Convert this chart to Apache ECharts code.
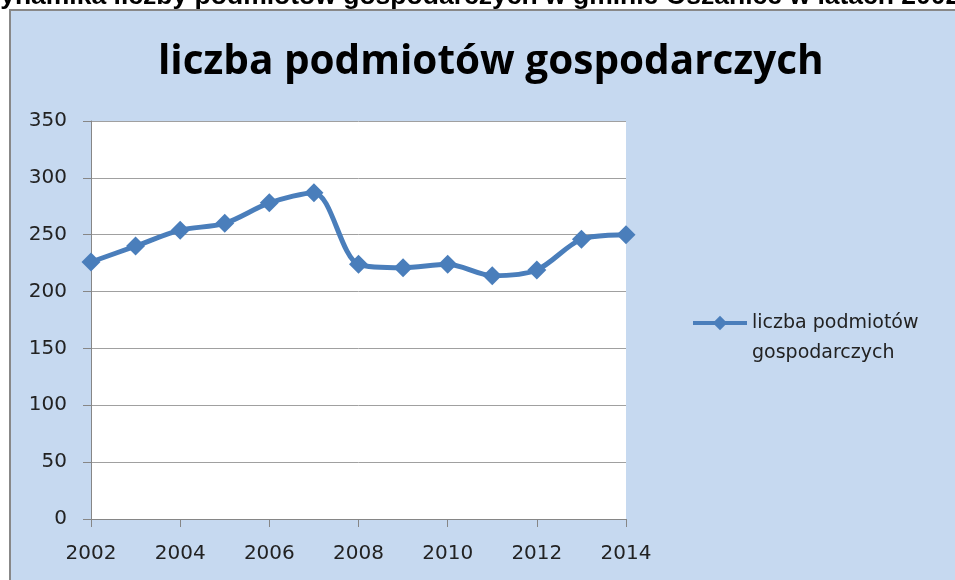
<!DOCTYPE html>
<html>
<head>
<meta charset="utf-8">
<script src="https://cdn.jsdelivr.net/npm/echarts@6/dist/echarts.min.js"></script>
<style>
  html, body { margin: 0; padding: 0; background: #fff; }
  #main { width: 955px; height: 580px; }
</style>
</head>
<body>
<div id="main"></div>
<script>
// dane
var years = [2002, 2003, 2004, 2005, 2006, 2007, 2008, 2009, 2010, 2011, 2012, 2013, 2014];
var values = [226, 240, 254, 260, 278, 287, 224, 221, 224, 214, 219, 246, 250];
var yTicks = [0, 50, 100, 150, 200, 250, 300, 350];
var xTicks = [2002, 2004, 2006, 2008, 2010, 2012, 2014];
var seriesName = 'liczba podmiotów gospodarczych';
var pageTitle = 'Dynamika liczby podmiotów gospodarczych w gminie Oszanice w latach 2002-2014';

var points = years.map(function (y, i) { return [y, values[i]]; });

var myChart = echarts.init(document.getElementById('main'));
var font = '"DejaVu Sans", sans-serif';

var option = {
    backgroundColor: '#ffffff',
    animation: false,
    graphic: [{
        type: 'rect',
        z: -10,
        shape: { x: 10, y: 10, width: 960, height: 590 },
        style: { fill: '#C6D9F0', stroke: '#888888', lineWidth: 2 }
    }, {
        type: 'text',
        z: -5,
        style: {
            x: -19, y: 10,
            text: pageTitle,
            font: 'bold 26.5px "Liberation Sans", Arial, sans-serif',
            fill: '#000',
            verticalAlign: 'bottom'
        }
    }],
    title: {
        text: seriesName,
        left: 153,
        top: 37,
        textStyle: {
            fontFamily: '"Open Sans", sans-serif',
            fontSize: 40.5,
            fontWeight: 'bold',
            color: '#000'
        }
    },
    legend: {
        left: 686,
        top: 273,
        itemWidth: 54,
        itemHeight: 18,
        data: [seriesName],
        formatter: function () { return '\nliczba podmiotów\ngospodarczych'; },
        lineStyle: { width: 4 },
        textStyle: {
            fontFamily: font,
            fontSize: 19,
            color: '#222',
            lineHeight: 30
        }
    },
    grid: {
        left: 91,
        right: 329,
        top: 121,
        bottom: 61,
        show: true,
        backgroundColor: '#ffffff',
        borderWidth: 0
    },
    xAxis: {
        type: 'value',
        min: xTicks[0],
        max: xTicks[xTicks.length - 1],
        interval: 2,
        axisLine: { show: true, lineStyle: { color: '#868686', width: 1 } },
        axisTick: { show: true, length: 8, lineStyle: { color: '#868686' } },
        splitLine: { show: false },
        axisLabel: {
            margin: 25,
            fontFamily: font,
            fontSize: 20,
            color: '#222',
            formatter: function (v) { return String(v); }
        }
    },
    yAxis: {
        type: 'value',
        min: yTicks[0],
        max: yTicks[yTicks.length - 1],
        interval: 50,
        axisLine: { show: true, lineStyle: { color: '#868686', width: 1 } },
        axisTick: { show: true, length: 8, lineStyle: { color: '#868686' } },
        splitLine: { show: true, lineStyle: { color: '#A0A0A0', width: 1 } },
        axisLabel: {
            margin: 24,
            fontFamily: font,
            fontSize: 20,
            color: '#222'
        }
    },
    series: [{
        name: seriesName,
        type: 'line',
        data: points,
        smooth: 0.3,
        symbol: 'diamond',
        symbolSize: 19,
        lineStyle: { color: '#4A7EBB', width: 5 },
        itemStyle: { color: '#4A7EBB' }
    }]
};

myChart.setOption(option);
</script>
</body>
</html>
